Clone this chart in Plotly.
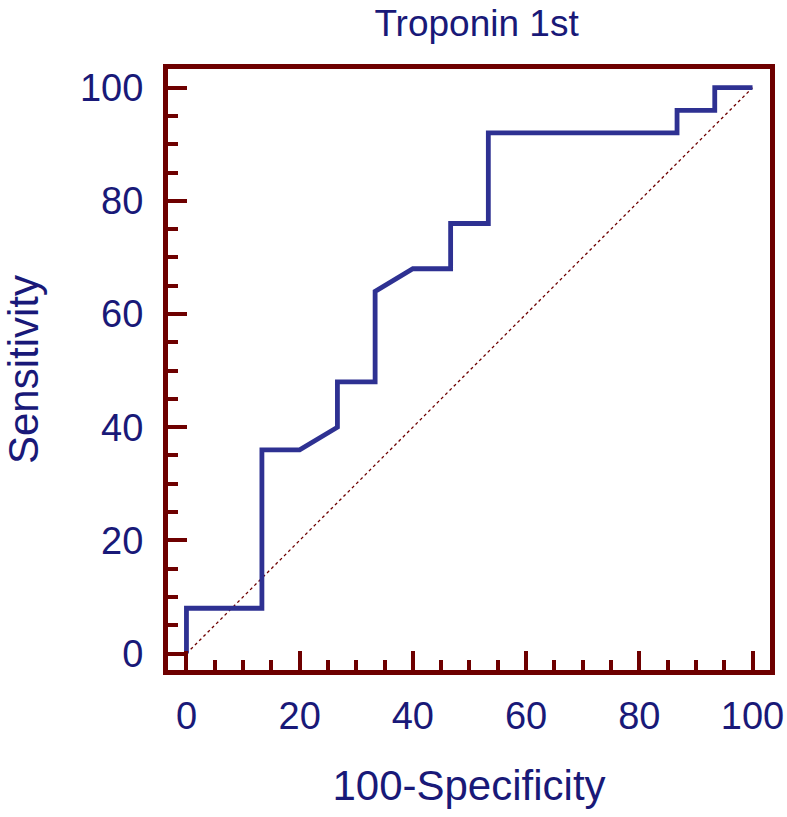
import plotly.graph_objects as go

# ROC curve data (100-Specificity, Sensitivity)
fpr = [0, 0, 13.33, 13.33, 20, 26.67, 26.67, 33.33, 33.33, 40, 46.67, 46.67,
       53.33, 53.33, 86.67, 86.67, 93.33, 93.33, 100]
tpr = [0, 8, 8, 36, 36, 40, 48, 48, 64, 68, 68, 76,
       76, 92, 92, 96, 96, 100, 100]
diag_x = [0, 100]
diag_y = [0, 100]
tick_vals = [0, 20, 40, 60, 80, 100]
tick_text = ["0", "20", "40", "60", "80", "100"]

title_text = "Troponin 1st"
x_title = "100-Specificity"
y_title = "Sensitivity"

FRAME = "rgb(110,0,0)"
TEXT = "rgb(25,25,120)"
CURVE = "rgb(46,49,146)"
FONT = "Arial, Liberation Sans, sans-serif"

fig = go.Figure()
fig.add_trace(go.Scatter(x=diag_x, y=diag_y, mode="lines",
                         line=dict(color=FRAME, width=1.3, dash="dot"),
                         hoverinfo="skip", showlegend=False))
fig.add_trace(go.Scatter(x=fpr, y=tpr, mode="lines",
                         line=dict(color=CURVE, width=4.8),
                         showlegend=False))

axis_common = dict(
    showgrid=False, zeroline=False, automargin=False,
    showline=True, linecolor=FRAME, linewidth=5, mirror=True,
    ticks="inside", ticklen=19, tickwidth=4, tickcolor=FRAME,
    tickvals=tick_vals, ticktext=tick_text,
    tickfont=dict(family=FONT, size=38, color=TEXT),
    minor=dict(ticks="inside", ticklen=10, tickwidth=4, tickcolor=FRAME, dtick=5, tick0=0),
)

fig.update_layout(
    width=787, height=817,
    margin=dict(l=167.5, r=16.5, t=69, b=146.5, pad=0),
    paper_bgcolor="white", plot_bgcolor="white",
    title=dict(text=title_text, x=0.6055, xanchor="center", y=0.9718, yanchor="middle",
               font=dict(family=FONT, size=37, color=TEXT)),
    xaxis=dict(axis_common, range=[-3.26, 103.09],
               title=dict(text=x_title, font=dict(family=FONT, size=42, color=TEXT), standoff=37),
               ticklabelstandoff=8),
    yaxis=dict(axis_common, range=[-2.91, 103.3],
               title=dict(text=y_title, font=dict(family=FONT, size=42, color=TEXT), standoff=34),
               ticklabelstandoff=12),
)

fig.write_html("out.html", config={"displayModeBar": False},
               post_script="document.body.style.margin='0';")
